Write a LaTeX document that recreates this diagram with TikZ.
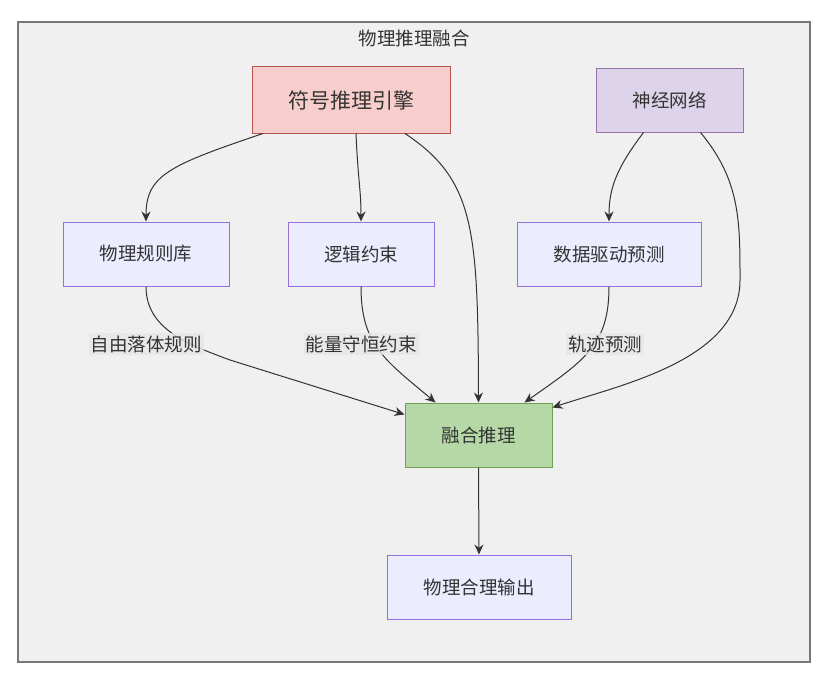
\documentclass[tikz,border=0pt]{standalone}
\usepackage{fontspec}
\setmainfont{Noto Sans CJK SC}
\usepackage{xcolor}
\usetikzlibrary{arrows.meta,positioning}

\definecolor{framefill}{HTML}{F0F0F0}
\definecolor{frameline}{HTML}{777777}
\definecolor{symfill}{HTML}{F8CECC}
\definecolor{symline}{HTML}{B85450}
\definecolor{neufill}{HTML}{DDD3EA}
\definecolor{neuline}{HTML}{9673A6}
\definecolor{boxfill}{HTML}{ECECFF}
\definecolor{boxline}{HTML}{9370DB}
\definecolor{fusfill}{HTML}{B5D8A6}
\definecolor{fusline}{HTML}{6E9F55}
\definecolor{lblbg}{HTML}{E6E6E6}
\definecolor{txt}{HTML}{333333}

\begin{document}
\begin{tikzpicture}[x=1pt,y=-1pt,
  box/.style={rectangle, draw=boxline, fill=boxfill, line width=1pt, minimum width=#1, minimum height=64pt, inner sep=0pt, text=txt, font=\fontsize{18.5}{20}\selectfont},
  flow/.style={draw=txt, line width=1pt, -{Stealth[length=10pt,width=9pt]}},
  lbl/.style={fill=lblbg, fill opacity=0.8, text opacity=1, text=txt, inner sep=2pt, font=\fontsize{18.5}{20}\selectfont}]
\useasboundingbox (0,0) rectangle (834,698);
\draw[draw=frameline, fill=framefill, line width=1.5pt] (18,22) rectangle (810,662);
\node[text=txt, font=\fontsize{18.5}{20}\selectfont] (title) at (414,38) {物理推理融合};

\node[box=198pt, minimum height=66pt, fill=symfill, draw=symline, font=\fontsize{21}{23}\selectfont] (sym) at (351,100) {符号推理引擎};
\node[box=147pt, minimum height=63pt, fill=neufill, draw=neuline] (neu) at (669.5,100.5) {神经网络};
\node[box=166pt] (rules) at (146,254) {物理规则库};
\node[box=146pt] (logic) at (361,254) {逻辑约束};
\node[box=184pt] (data) at (609,254) {数据驱动预测};
\node[box=147pt, fill=fusfill, draw=fusline] (fus) at (478.5,435) {融合推理};
\node[box=184pt] (out) at (479,587) {物理合理输出};

\draw[flow] ([xshift=-88]sym.south) .. controls (170,165) and (146,175) .. (rules.north);
\draw[flow] ([xshift=5]sym.south) .. controls (358,180) and (361,190) .. (logic.north);
\draw[flow] ([xshift=54]sym.south) .. controls (475,180) and (478,230) .. (fus.north);
\draw[flow] ([xshift=-26]neu.south) .. controls (615,170) and (609,190) .. (data.north);
\draw[flow] ([xshift=31]neu.south) .. controls (740,180) and (740,220) .. (740,280) .. controls (740,360) and (620,385) .. ([yshift=-5]fus.north east);
\draw[flow] (rules.south) .. controls (146,330) and (190,345) .. (230,360) -- ([yshift=-12]fus.north west);
\draw[flow] (logic.south) .. controls (361,345) and (385,360) .. ([xshift=-43]fus.north);
\draw[flow] (data.south) .. controls (609,345) and (585,360) .. ([xshift=46]fus.north);
\draw[flow] (fus.south) -- (out.north);

\node[lbl] (l1) at (146,344) {自由落体规则};
\node[lbl] (l2) at (361,344) {能量守恒约束};
\node[lbl] (l3) at (605,344) {轨迹预测};
\end{tikzpicture}
\end{document}
